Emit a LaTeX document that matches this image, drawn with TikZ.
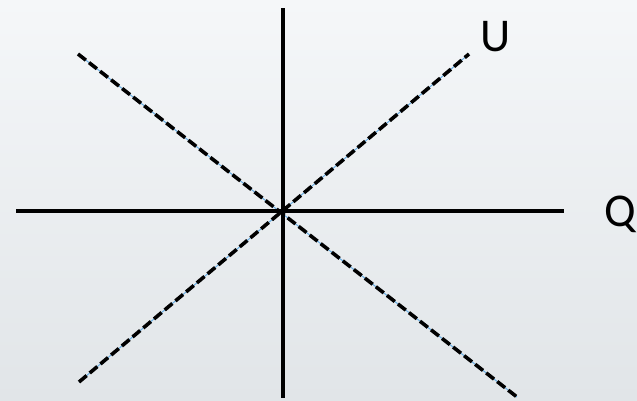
\documentclass[tikz,border=0pt]{standalone}
\usepackage{fontspec}
\setmainfont{Carlito}
\begin{document}
\begin{tikzpicture}[x=1pt,y=-1pt,
  axis/.style={black,line width=3.6pt},
  dashaxis/.style={black,line width=3.6pt,dash pattern=on 10pt off 4pt},
  guide/.style={cyan!70!blue!60,line width=1pt},
  lbl/.style={font=\fontsize{47}{47}\selectfont,inner sep=0pt}]
\definecolor{bgtop}{HTML}{F5F7F9}
\definecolor{bgbot}{HTML}{E1E5E8}
\shade[top color=bgtop,bottom color=bgbot] (0,0) rectangle (637,400);
\useasboundingbox (0,0) rectangle (637,400);
\coordinate (vt) at (283,8);
\coordinate (vb) at (283,398);
\coordinate (hl) at (16,211);
\coordinate (hr) at (564,211);
\coordinate (a1) at (78,54);
\coordinate (a2) at (517,397);
\coordinate (b1) at (79,382);
\coordinate (b2) at (469,54);
\draw[guide] (a1) -- (a2);
\draw[guide] (b1) -- (b2);
\draw[dashaxis] (a1) -- (a2);
\draw[dashaxis] (b1) -- (b2);
\draw[axis] (vt) -- (vb);
\draw[axis] (hl) -- (hr);
\node[lbl] (U) at (496,37) {U};
\node[lbl] (Q) at (620,214) {Q};
\end{tikzpicture}
\end{document}
